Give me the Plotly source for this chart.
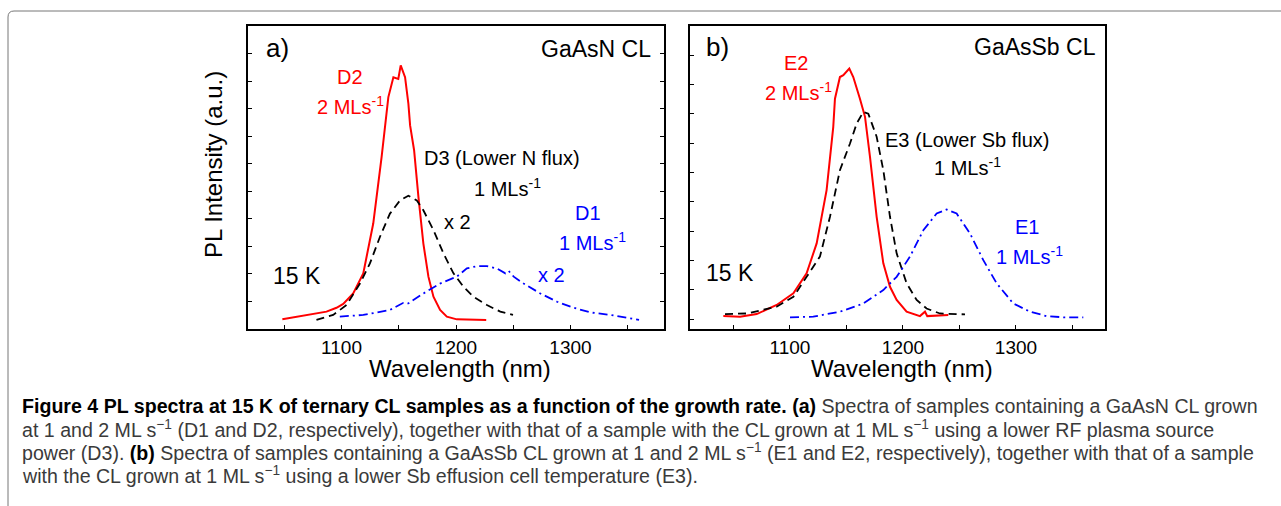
import plotly.graph_objects as go

# ---------------- data ----------------
# Panel a: GaAsN CL
d2_wl = [1048.3, 1086.9, 1095.6, 1101.5, 1110.2, 1119.0, 1127.7, 1135.0, 1140.9, 1145.3, 1149.6, 1151.7,
         1155.5, 1158.4, 1159.9, 1163.4, 1167.2, 1171.5, 1175.9, 1180.3, 1186.1, 1192.0, 1200.7, 1226.4]
d2_int = [0.35, 0.63, 0.77, 0.91, 1.29, 2.02, 3.83, 6.24, 8.42, 9.14, 9.08, 9.57,
          9.14, 8.18, 7.39, 6.49, 4.79, 3.10, 1.90, 1.17, 0.69, 0.45, 0.35, 0.33]

d3_wl = [1078.1, 1092.7, 1104.4, 1116.1, 1124.8, 1133.6, 1142.3, 1151.1, 1158.4, 1165.7, 1171.5, 1180.3,
         1189.1, 1197.8, 1206.6, 1215.3, 1227.0, 1238.7, 1249.8]
d3_int = [0.33, 0.51, 0.87, 1.65, 2.38, 3.35, 4.19, 4.67, 4.84, 4.67, 4.31, 3.59,
          2.74, 2.02, 1.53, 1.17, 0.87, 0.63, 0.51]

d1_wl = [1098.5, 1119.0, 1142.3, 1154.0, 1158.4, 1171.5, 1186.1, 1200.7, 1209.5, 1218.2, 1227.0, 1235.8,
         1243.1, 1246.0, 1250.4, 1259.1, 1273.7, 1288.3, 1302.9, 1317.5, 1335.0, 1359.9]
d1_int = [0.45, 0.51, 0.69, 0.95, 0.93, 1.29, 1.65, 1.90, 2.20, 2.28, 2.28, 2.20,
          2.02, 2.11, 1.90, 1.65, 1.29, 0.99, 0.77, 0.60, 0.51, 0.33]

# Panel b: GaAsSb CL
e2_wl = [1041.0, 1055.8, 1070.5, 1088.2, 1103.0, 1114.7, 1123.6, 1132.4, 1138.3, 1139.8, 1144.2, 1147.2,
         1152.5, 1156.0, 1161.9, 1166.4, 1170.8, 1176.7, 1182.6, 1188.5, 1194.4, 1203.2, 1215.0, 1219.5,
         1221.5, 1240.1]
e2_int = [0.10, 0.08, 0.17, 0.48, 0.88, 1.56, 2.58, 4.40, 6.56, 7.52, 8.26, 8.32,
          8.55, 8.26, 7.52, 6.90, 5.53, 3.49, 1.90, 1.10, 0.65, 0.25, 0.10, 0.25,
          0.10, 0.14]

e3_wl = [1042.5, 1061.7, 1088.2, 1103.0, 1114.7, 1126.5, 1135.4, 1144.2, 1153.1, 1159.0, 1164.9, 1169.3,
         1176.7, 1182.6, 1188.5, 1194.4, 1203.2, 1212.1, 1220.9, 1232.7, 1254.9]
e3_int = [0.17, 0.19, 0.42, 0.76, 1.44, 2.13, 3.49, 5.08, 5.99, 6.67, 7.07, 7.01,
          6.22, 5.08, 3.49, 2.24, 1.22, 0.65, 0.36, 0.19, 0.16]

e1_wl = [1100.0, 1120.6, 1144.2, 1164.9, 1182.6, 1194.4, 1206.2, 1218.0, 1229.8, 1238.6, 1247.5, 1259.3,
         1271.1, 1282.9, 1297.6, 1312.4, 1327.1, 1341.9, 1359.6]
e1_int = [0.06, 0.08, 0.25, 0.53, 0.99, 1.44, 2.13, 3.03, 3.60, 3.74, 3.60, 2.92,
          2.01, 1.22, 0.53, 0.25, 0.10, 0.06, 0.06]

x_ticks = [1100, 1200, 1300]

B = '<b><span style="color:#000000">'
BE = '</span></b>'
caption_lines = [
    B + "Figure 4 PL spectra at 15 K of ternary CL samples as a function of the growth rate. (a)" + BE + " "
    "Spectra of samples containing a GaAsN CL grown",
    "at 1 and 2 ML s<sup>\u22121</sup> (D1 and D2, respectively), together with that of a sample with the CL "
    "grown at 1 ML s<sup>\u22121</sup> using a lower RF plasma source",
    "power (D3). " + B + "(b)" + BE + " Spectra of samples containing a GaAsSb CL grown at 1 and 2 ML s<sup>\u22121</sup> "
    "(E1 and E2, respectively), together with that of a sample",
    "with the CL grown at 1 ML s<sup>\u22121</sup> using a lower Sb effusion cell temperature (E3).",
]

# ---------------- figure ----------------
W, H = 1281, 506
RED, BLUE, BLACK = "#ff0000", "#0000ff", "#000000"
FONT = "Liberation Sans, Arial, sans-serif"

fig = go.Figure()
fig.add_trace(go.Scatter(x=d2_wl, y=d2_int, mode="lines", line=dict(color=RED, width=2), xaxis="x", yaxis="y"))
fig.add_trace(go.Scatter(x=d3_wl, y=d3_int, mode="lines", line=dict(color=BLACK, width=1.8, dash="8px,5px"), xaxis="x", yaxis="y"))
fig.add_trace(go.Scatter(x=d1_wl, y=d1_int, mode="lines", line=dict(color=BLUE, width=1.8, dash="9px,4px,2px,4px"), xaxis="x", yaxis="y"))
fig.add_trace(go.Scatter(x=e2_wl, y=e2_int, mode="lines", line=dict(color=RED, width=2), xaxis="x2", yaxis="y2"))
fig.add_trace(go.Scatter(x=e3_wl, y=e3_int, mode="lines", line=dict(color=BLACK, width=1.8, dash="8px,5px"), xaxis="x2", yaxis="y2"))
fig.add_trace(go.Scatter(x=e1_wl, y=e1_int, mode="lines", line=dict(color=BLUE, width=1.8, dash="9px,4px,2px,4px"), xaxis="x2", yaxis="y2"))

def px_x(p):
    return p / W

def px_y(p):
    return 1 - p / H

y_dom = [px_y(329), px_y(26)]

xcommon = dict(showline=True, linecolor="black", linewidth=1.5, mirror=True,
               ticks="inside", ticklen=4, tickcolor="black", tickwidth=1,
               tickvals=x_ticks, showgrid=False, zeroline=False,
               minor=dict(dtick=50, ticks="inside", ticklen=4, tickcolor="black", tickwidth=1, showgrid=False),
               tickfont=dict(family=FONT, size=19, color="black"),
               ticklabelstandoff=0)
ycommon = dict(showline=True, linecolor="black", linewidth=1.5,
               ticks="inside", ticklen=4, tickcolor="black", tickwidth=1,
               dtick=1, tick0=0, showticklabels=False, showgrid=False, zeroline=False)

fig.update_layout(
    width=W, height=H,
    margin=dict(l=0, r=0, t=0, b=0),
    paper_bgcolor="white", plot_bgcolor="white",
    showlegend=False,
    xaxis=dict(domain=[px_x(248), px_x(664)], range=[1018.3, 1381.7], anchor="y", **xcommon),
    yaxis=dict(domain=y_dom, range=[0, 11], anchor="x", mirror="all", **ycommon),
    xaxis2=dict(domain=[px_x(690), px_x(1105)], range=[1011.5, 1378.8], anchor="y2", **xcommon),
    yaxis2=dict(domain=y_dom, range=[-0.34, 10], anchor="x2", mirror=True, **ycommon),
)

ann = []
def lab(text, x, y, color, size=20, xr="x", yr="y", xanchor="center"):
    ann.append(dict(text=text, x=x, y=y, xref=xr, yref=yr, showarrow=False, xanchor=xanchor,
                    yanchor="middle", font=dict(family=FONT, size=size, color=color)))

# panel a labels
lab("a)", 1044.5, 10.2, BLACK, 26)
lab("GaAsN CL", 1372, 10.16, BLACK, 23, xanchor="right")
lab("D2", 1107.4, 9.15, RED)
lab("2 MLs<sup>-1</sup>", 1107.4, 8.13, RED)
lab("D3 (Lower N flux)", 1240.2, 6.21, BLACK)
lab("1 MLs<sup>-1</sup>", 1245.4, 5.15, BLACK)
lab("x 2", 1201.7, 3.88, BLACK)
lab("D1", 1315.3, 4.21, BLUE)
lab("1 MLs<sup>-1</sup>", 1318.8, 3.16, BLUE)
lab("x 2", 1283.8, 1.96, BLUE)
lab("15 K", 1061.1, 1.92, BLACK, 23)
# panel b labels
lab("b)", 1035.4, 9.28, BLACK, 26, "x2", "y2")
lab("GaAsSb CL", 1372.6, 9.28, BLACK, 23, "x2", "y2", xanchor="right")
lab("E2", 1105.3, 8.74, RED, 20, "x2", "y2")
lab("2 MLs<sup>-1</sup>", 1107.1, 7.75, RED, 20, "x2", "y2")
lab("E3 (Lower Sb flux)", 1257.5, 6.11, BLACK, 20, "x2", "y2")
lab("1 MLs<sup>-1</sup>", 1257.5, 5.19, BLACK, 20, "x2", "y2")
lab("E1", 1309.7, 3.14, BLUE, 20, "x2", "y2")
lab("1 MLs<sup>-1</sup>", 1312.4, 2.18, BLUE, 20, "x2", "y2")
lab("15 K", 1046.9, 1.57, BLACK, 23, "x2", "y2")

# axis titles
ann.append(dict(text="PL Intensity (a.u.)", x=px_x(213), y=px_y(165), xref="paper", yref="paper",
                showarrow=False, textangle=-90, xanchor="center", yanchor="middle",
                font=dict(family=FONT, size=24, color="black")))
for cx in (460, 902):
    ann.append(dict(text="Wavelength (nm)", x=px_x(cx), y=px_y(368), xref="paper", yref="paper",
                    showarrow=False, xanchor="center", yanchor="middle",
                    font=dict(family=FONT, size=24, color="black")))

# caption
cap_y = [406, 429, 452, 475]
for t, yy in zip(caption_lines, cap_y):
    ann.append(dict(text=t, x=px_x(20), y=px_y(yy), xref="paper", yref="paper", showarrow=False,
                    xanchor="left", yanchor="middle", align="left",
                    font=dict(family="Liberation Sans, Arial, sans-serif", size=19.6, color="#3a3a3a")))

fig.update_layout(annotations=ann)

# outer rounded frame (cropped at right and bottom)
r_x, r_y = 6 / W, 6 / H
x0, y0 = 8 / W, 1 - 11 / H
fig.add_shape(type="path", xref="paper", yref="paper",
              path=f"M {x0},{-0.05} L {x0},{y0 - r_y} Q {x0},{y0} {x0 + r_x},{y0} L {1.05},{y0}",
              line=dict(color="#777777", width=1))

fig.write_html("out.html")
